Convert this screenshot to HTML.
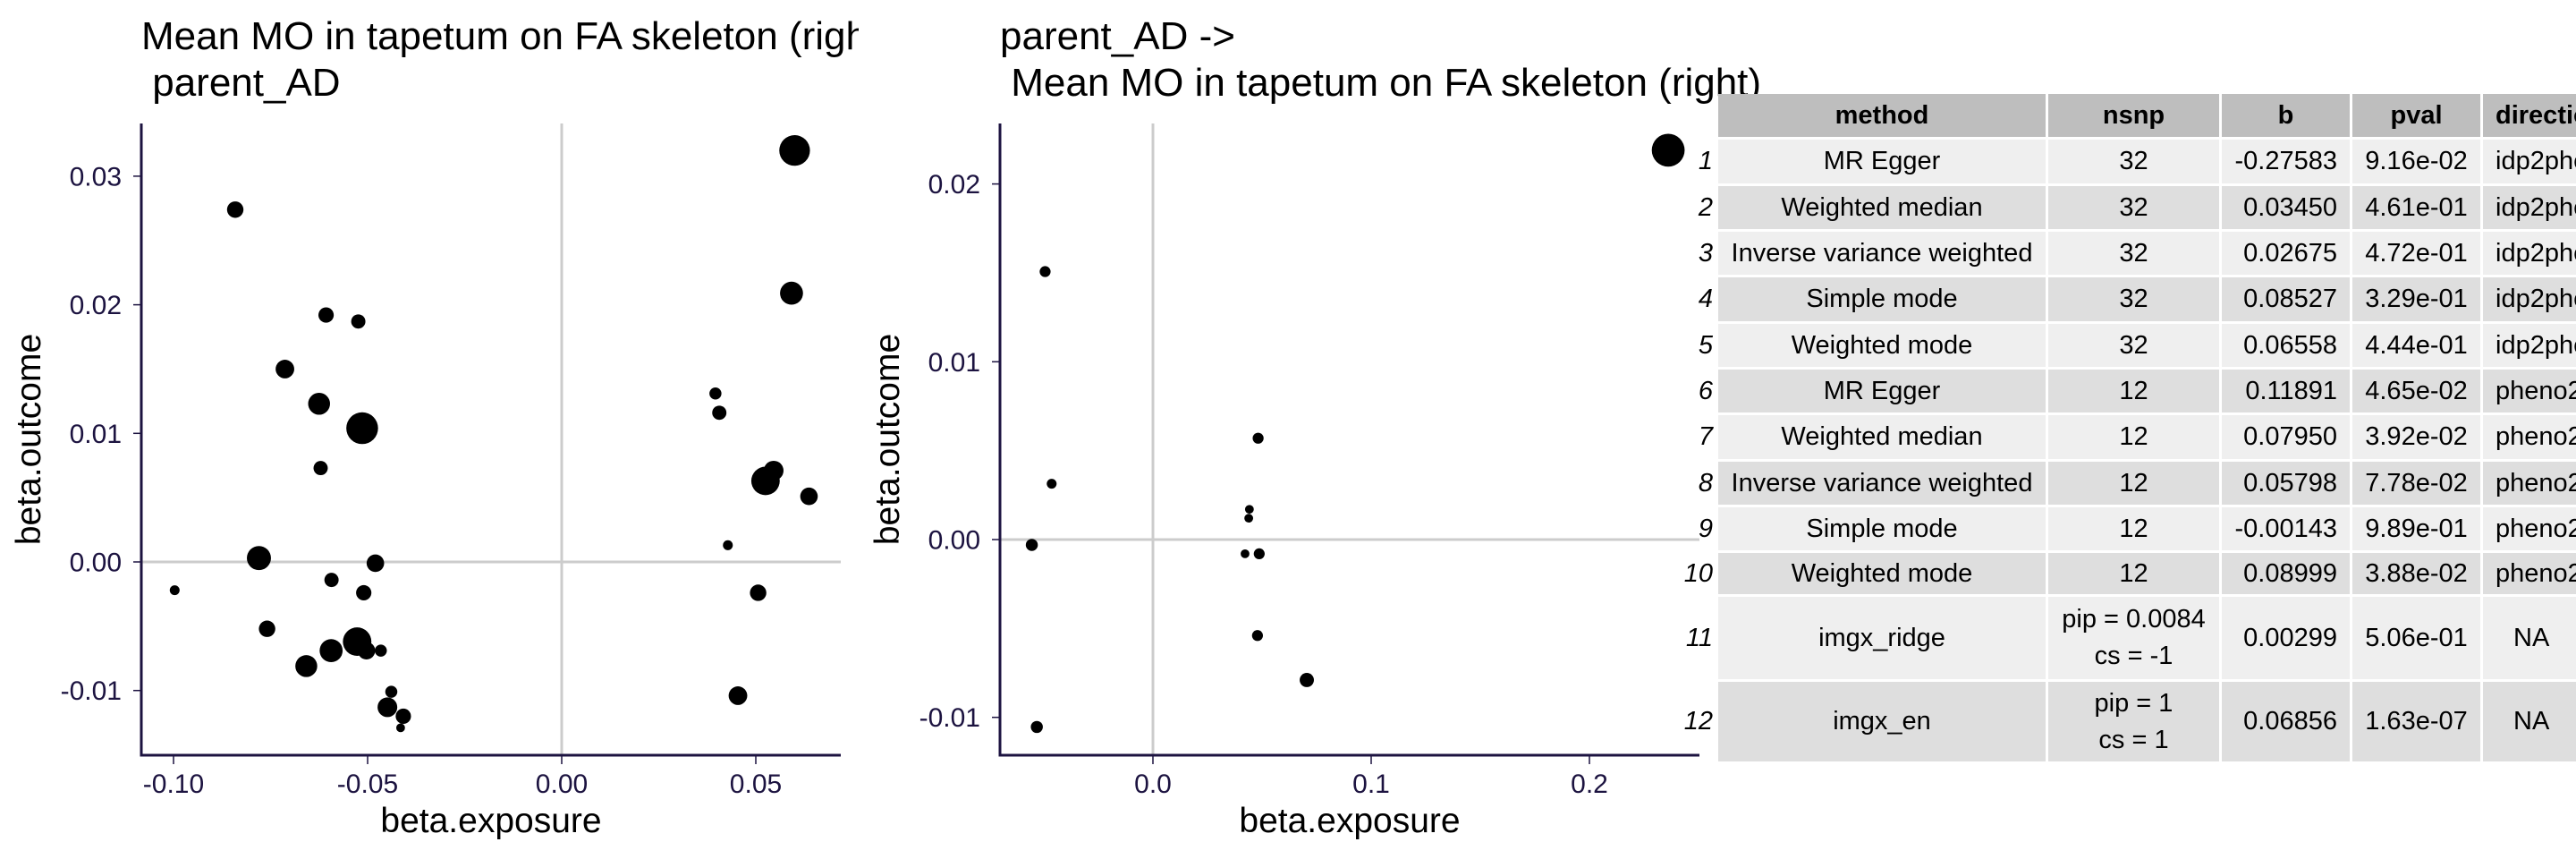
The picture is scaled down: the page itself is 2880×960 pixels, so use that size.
<!DOCTYPE html>
<html><head><meta charset="utf-8">
<style>
html,body{margin:0;padding:0;background:#fff;}
body{width:2880px;height:960px;position:relative;overflow:hidden;font-family:"Liberation Sans",Arial,sans-serif;}
svg{position:absolute;left:0;top:0;}
text{font-family:"Liberation Sans",Arial,sans-serif;}
.cell{position:absolute;box-sizing:border-box;display:flex;align-items:center;justify-content:center;flex-direction:column;font-size:29px;color:#000;white-space:nowrap;overflow:hidden;line-height:41px;text-align:center;}
.hd{background:#bebebe;font-weight:bold;}
.o{background:#efefef;} .e{background:#dedede;}
.idx{font-style:italic;align-items:flex-end;}
</style></head><body>
<svg id="chart" width="2880" height="960"></svg>
<div id="tbl"></div>
<script>
// ---- panel 1 data ----
const p1X=[-0.0841,-0.0607,-0.0524,-0.0713,-0.0625,-0.0514,-0.0621,-0.0780,-0.0480,-0.0997,-0.0593,-0.0510,-0.0759,-0.0594,-0.0527,-0.0503,-0.0466,-0.0658,-0.0439,-0.0449,-0.0408,-0.0415,0.0600,0.0592,0.0396,0.0406,0.0546,0.0525,0.0637,0.0428,0.0506,0.0454];
const p1Y=[0.0274,0.0192,0.0187,0.0150,0.0123,0.0104,0.0073,0.0003,-0.0001,-0.0022,-0.0014,-0.0024,-0.0052,-0.0069,-0.0062,-0.0069,-0.0069,-0.0081,-0.0101,-0.0113,-0.0120,-0.0129,0.0320,0.0209,0.0131,0.0116,0.0071,0.0063,0.0051,0.0013,-0.0024,-0.0104];
const p1S=[15,14,13,17,20,29,13,22,16,9,13,14,15,21,26,16,11,20,11,18,14,8,28,21,11,13,18,26,16,9,15,17];
const p1XTicks=[-0.10,-0.05,0.00,0.05];
const p1XLabels=["-0.10","-0.05","0.00","0.05"];
const p1YTicks=[-0.01,0.00,0.01,0.02,0.03];
const p1YLabels=["-0.01","0.00","0.01","0.02","0.03"];
// ---- panel 2 data ----
const p2X=[-0.0494,-0.0464,-0.0555,-0.0532,0.0482,0.0442,0.0439,0.0422,0.0487,0.0479,0.0705,0.2361];
const p2Y=[0.01507,0.00314,-0.0003,-0.01054,0.0057,0.0017,0.0012,-0.0008,-0.0008,-0.0054,-0.0079,0.0219];
const p2S=[10,9,11,11,10,8,8,8,10,10,13,30];
const p2XTicks=[0.0,0.1,0.2];
const p2XLabels=["0.0","0.1","0.2"];
const p2YTicks=[-0.01,0.00,0.01,0.02];
const p2YLabels=["-0.01","0.00","0.01","0.02"];
// ---- table data ----
const tHead=["method","nsnp","b","pval","direction"];
const tMethod=["MR Egger","Weighted median","Inverse variance weighted","Simple mode","Weighted mode","MR Egger","Weighted median","Inverse variance weighted","Simple mode","Weighted mode","imgx_ridge","imgx_en"];
const tNsnp=["32","32","32","32","32","12","12","12","12","12","pip = 0.0084|cs = -1","pip = 1|cs = 1"];
const tB=["-0.27583","0.03450","0.02675","0.08527","0.06558","0.11891","0.07950","0.05798","-0.00143","0.08999","0.00299","0.06856"];
const tP=["9.16e-02","4.61e-01","4.72e-01","3.29e-01","4.44e-01","4.65e-02","3.92e-02","7.78e-02","9.89e-01","3.88e-02","5.06e-01","1.63e-07"];
const tDir=["idp2pheno","idp2pheno","idp2pheno","idp2pheno","idp2pheno","pheno2idp","pheno2idp","pheno2idp","pheno2idp","pheno2idp","NA","NA"];

const NS="http://www.w3.org/2000/svg";
const svg=document.getElementById('chart');
const AX="#1c1340";
function mk(tag,attrs,parent){const e=document.createElementNS(NS,tag);for(const k in attrs)e.setAttribute(k,attrs[k]);(parent||svg).appendChild(e);return e;}

function panel(o){
  const g=mk('g',{'clip-path':'url(#'+o.clip+')'});
  
  
  const cp=mk('clipPath',{id:o.clip});
  mk('rect',{x:o.clipX,y:0,width:o.clipW,height:960},cp);
  const sx=v=>o.x0+(v-o.xz)*o.kx, sy=v=>o.y0-(v-o.yz)*o.ky;
  const t1=mk('text',{x:o.left,y:55,'font-size':44,fill:'#000'},g);t1.textContent=o.t1;
  
  
  const t2=mk('text',{x:o.left,y:107,'font-size':44,fill:'#000'},g);t2.textContent=o.t2;
  
  
  const zv=mk('line',{x1:sx(0),x2:sx(0),y1:138,y2:844,stroke:'#cccccc','stroke-width':3},g);
  
  
  const zh=mk('line',{x1:o.left,x2:o.right,y1:sy(0),y2:sy(0),stroke:'#cccccc','stroke-width':3},g);
  
  
  for(let i=0;i<o.X.length;i++){
    const c=mk('circle',{cx:sx(o.X[i]),cy:sy(o.Y[i]),r:o.S[i]/1.633,fill:'#000'},g);
    
    
  }
  const ya=mk('line',{x1:o.left,x2:o.left,y1:138,y2:845.5,stroke:AX,'stroke-width':3},g);
  
  
  const xa=mk('line',{x1:o.left-1.5,x2:o.right,y1:844,y2:844,stroke:AX,'stroke-width':3},g);
  
  
  o.xt.forEach((v,i)=>{
    mk('line',{x1:sx(v),x2:sx(v),y1:845,y2:854,stroke:AX,'stroke-width':1.5},g);
    const t=mk('text',{x:sx(v),y:886,'font-size':30,fill:AX,'text-anchor':'middle'},g);t.textContent=o.xl[i];
    
    
  });
  o.yt.forEach((v,i)=>{
    mk('line',{x1:o.left-9,x2:o.left,y1:sy(v),y2:sy(v),stroke:AX,'stroke-width':1.5},g);
    const t=mk('text',{x:o.left-22,y:sy(v)+10.5,'font-size':30,fill:AX,'text-anchor':'end'},g);t.textContent=o.yl[i];
    
    
  });
  const xt=mk('text',{x:(o.left+o.right)/2,y:930,'font-size':39,fill:'#000','text-anchor':'middle'},g);xt.textContent='beta.exposure';
  
  
  const yt=mk('text',{x:0,y:0,'font-size':39,fill:'#000','text-anchor':'middle',transform:'translate('+(o.left-113)+',491) rotate(-90)'},g);yt.textContent='beta.outcome';
  
  
}
panel({name:'scatter-panel-exposure-mo',clip:'c1',clipX:0,clipW:960,left:158,right:940,x0:628,xz:0,kx:4340,y0:628,yz:0,ky:14370,
  X:p1X,Y:p1Y,S:p1S,xt:p1XTicks,xl:p1XLabels,yt:p1YTicks,yl:p1YLabels,
  t1:'Mean MO in tapetum on FA skeleton (right) ->',t2:'\u00a0parent_AD'});
panel({name:'scatter-panel-exposure-parent-ad',clip:'c2',clipX:960,clipW:1920,left:1118,right:1900,x0:1289,xz:0,kx:2440,y0:603,yz:0,ky:19870,
  X:p2X,Y:p2Y,S:p2S,xt:p2XTicks,xl:p2XLabels,yt:p2YTicks,yl:p2YLabels,
  t1:'parent_AD ->',t2:'\u00a0Mean MO in tapetum on FA skeleton (right)'});

// ---- table layout ----
const colX=[1921,2290,2484,2630,2776,3000];
const rowY=[105,156,208,259,310,362,413,464,516,567,618,667,762,854];
const tbl=document.getElementById('tbl');
function cell(x0,x1,y0,y1,cls,html,extra){
  const d=document.createElement('div');
  d.className='cell '+cls;
  d.style.left=x0+'px';d.style.top=y0+'px';
  d.style.width=(x1-x0-3)+'px';d.style.height=(y1-y0-3)+'px';
  if(extra)Object.assign(d.style,extra);
  d.innerHTML=html;
  tbl.appendChild(d);
  return d;
}
tHead.forEach((h,j)=>{
  const d=cell(colX[j],colX[j+1],rowY[0],rowY[1],'hd',h,j===4?{alignItems:'flex-start',paddingLeft:'14px'}:null);
  
  
});
for(let i=0;i<tMethod.length;i++){
  const y0=rowY[i+1],y1=rowY[i+2],cls=i%2===0?'o':'e';
  const ix=cell(1870,1920,y0,y1,'idx',String(i+1),{paddingRight:'2px',background:'transparent'});
  
  
  const vals=[tMethod[i],tNsnp[i].split('|').join('<br>'),tB[i],tP[i],tDir[i]];
  vals.forEach((v,j)=>{
    let ex=null;
    if(j===2)ex={alignItems:'flex-end',paddingRight:'14px'};
    if(j===4)ex=(v==='NA')?{alignItems:'flex-start',paddingLeft:'34px'}:{alignItems:'flex-start',paddingLeft:'14px'};
    const d=cell(colX[j],colX[j+1],y0,y1,cls,v,ex);
    
    
  });
}
</script>
</body></html>
